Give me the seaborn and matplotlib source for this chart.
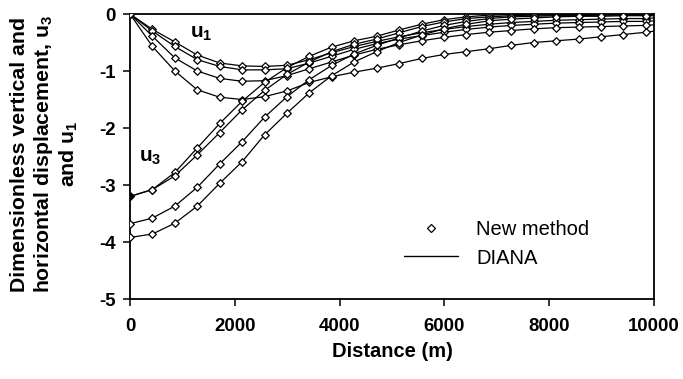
import numpy as np
import pandas as pd
import matplotlib
matplotlib.use("Agg")
import matplotlib.pyplot as plt
from matplotlib.lines import Line2D
import seaborn as sns

# ---------------- data ----------------
distance = [0, 428, 856, 1284, 1712, 2140, 2568, 2996, 3424, 3852, 4280, 4708,
            5136, 5564, 5992, 6420, 6848, 7276, 7704, 8132, 8560, 8988, 9416, 9844, 10000]

# horizontal displacement u1 (four cases)
u1_a = [0, -0.27, -0.49, -0.72, -0.86, -0.91, -0.92, -0.90, -0.80, -0.68, -0.57, -0.48,
        -0.40, -0.33, -0.27, -0.22, -0.18, -0.15, -0.13, -0.11, -0.10, -0.09, -0.08, -0.08, -0.07]
u1_b = [0, -0.30, -0.57, -0.80, -0.92, -0.98, -0.98, -0.96, -0.86, -0.74, -0.62, -0.52,
        -0.44, -0.38, -0.32, -0.27, -0.23, -0.20, -0.18, -0.16, -0.15, -0.14, -0.13, -0.13, -0.12]
u1_c = [0, -0.39, -0.77, -1.00, -1.13, -1.18, -1.17, -1.08, -0.96, -0.84, -0.72, -0.62,
        -0.54, -0.47, -0.41, -0.36, -0.32, -0.29, -0.26, -0.24, -0.23, -0.22, -0.21, -0.20, -0.19]
u1_d = [0, -0.57, -1.00, -1.33, -1.46, -1.50, -1.45, -1.35, -1.20, -1.10, -1.02, -0.95,
        -0.87, -0.78, -0.71, -0.66, -0.61, -0.55, -0.50, -0.47, -0.44, -0.40, -0.36, -0.32, -0.30]

# vertical displacement u3 (four cases)
u3_e = [-3.20, -3.08, -2.78, -2.35, -1.92, -1.53, -1.20, -0.94, -0.74, -0.58, -0.47, -0.39,
        -0.28, -0.18, -0.10, -0.05, -0.02, -0.01, 0.0, 0.0, 0.0, 0.0, 0.0, 0.0, 0.0]
u3_f = [-3.20, -3.08, -2.84, -2.47, -2.08, -1.68, -1.34, -1.06, -0.84, -0.66, -0.53, -0.44,
        -0.33, -0.22, -0.14, -0.08, -0.05, -0.03, -0.02, -0.02, -0.01, -0.01, -0.01, -0.01, -0.01]
u3_g = [-3.68, -3.58, -3.37, -3.04, -2.63, -2.24, -1.81, -1.45, -1.15, -0.90, -0.70, -0.55,
        -0.42, -0.30, -0.20, -0.13, -0.08, -0.05, -0.04, -0.03, -0.03, -0.02, -0.02, -0.02, -0.02]
u3_h = [-3.92, -3.86, -3.67, -3.37, -2.97, -2.59, -2.12, -1.74, -1.38, -1.08, -0.84, -0.66,
        -0.50, -0.37, -0.26, -0.18, -0.12, -0.09, -0.07, -0.05, -0.04, -0.04, -0.03, -0.03, -0.03]

# the last distance (10000) is only reached by the DIANA curves, no marker there
has_marker = [True] * 24 + [False]

series = {"u1_a": u1_a, "u1_b": u1_b, "u1_c": u1_c, "u1_d": u1_d,
          "u3_e": u3_e, "u3_f": u3_f, "u3_g": u3_g, "u3_h": u3_h}

x_ticks = [0, 2000, 4000, 6000, 8000, 10000]
y_ticks = [0, -1, -2, -3, -4, -5]

rows = []
for name, vals in series.items():
    for d, v, m in zip(distance, vals, has_marker):
        rows.append({"series": name, "distance": d, "value": v, "marker": m})
df = pd.DataFrame(rows)

# ---------------- style ----------------
sns.set_style("ticks")
plt.rcParams["font.family"] = ["Liberation Sans", "DejaVu Sans"]
plt.rcParams["mathtext.fontset"] = "custom"
plt.rcParams["mathtext.rm"] = "Liberation Sans"
plt.rcParams["mathtext.bf"] = "Liberation Sans:bold"
plt.rcParams["mathtext.it"] = "Liberation Sans:italic"
for key in ["text.color", "axes.labelcolor", "xtick.color", "ytick.color", "axes.edgecolor"]:
    plt.rcParams[key] = "black"

fig = plt.figure(figsize=(6.83, 3.79), dpi=100)
ax = fig.add_axes([130 / 683, 1 - 299 / 379, 524 / 683, 285 / 379])

sns.lineplot(data=df, x="distance", y="value", units="series", estimator=None,
             color="black", linewidth=0.9, ax=ax, legend=False, sort=False)
mk = df[df["marker"]]
sns.scatterplot(data=mk, x="distance", y="value", marker="D", s=15,
                facecolor="white", edgecolor="black", linewidth=0.9,
                ax=ax, legend=False, zorder=3)
first = df[(df["series"] == "u3_e") & (df["distance"] == 0)]
sns.scatterplot(data=first, x="distance", y="value", marker="D", s=16,
                color="black", edgecolor="black", ax=ax, legend=False, zorder=4)

ax.set_xlim(0, 10000)
ax.set_ylim(-5, 0)
ax.set_xticks(x_ticks)
ax.set_yticks(y_ticks)
ax.set_xticklabels([str(t) for t in x_ticks], fontsize=13.4, fontweight="bold", color="black")
ax.set_yticklabels([str(t) for t in y_ticks], fontsize=13.4, fontweight="bold", color="black")
ax.tick_params(direction="out", length=5, width=1.1, pad=5, colors="black")
ax.tick_params(axis="x", pad=9)
for sp in ax.spines.values():
    sp.set_visible(True)
    sp.set_color("black")
    sp.set_linewidth(1.3)

ax.set_xlabel("Distance (m)", fontsize=14.5, fontweight="bold", labelpad=5, color="black")
ax.set_ylabel("")
fig.text(45 / 683, 1 - 154 / 379,
         "Dimensionless vertical and\nhorizontal displacement, u$_{\\mathbf{3}}$\nand u$_{\\mathbf{1}}$",
         rotation=90, ha="center", va="center", multialignment="center",
         fontsize=15.3, fontweight="bold", linespacing=1.15, color="black")

ax.text(1150, -0.34, r"$\mathbf{u_1}$", fontsize=15, ha="left", va="center")
ax.text(180, -2.52, r"$\mathbf{u_3}$", fontsize=15, ha="left", va="center")

handles = [Line2D([], [], linestyle="none", marker="D", markersize=4,
                  markerfacecolor="white", markeredgecolor="black", markeredgewidth=0.9),
           Line2D([], [], color="black", linewidth=1.0)]
ax.legend(handles, ["New method", "DIANA"], loc="center", bbox_to_anchor=(0.70, 0.193),
          frameon=False, fontsize=14.5, handlelength=2.7, handletextpad=0.9,
          labelspacing=0.45, labelcolor="black")

fig.savefig("out.png", dpi=100)
